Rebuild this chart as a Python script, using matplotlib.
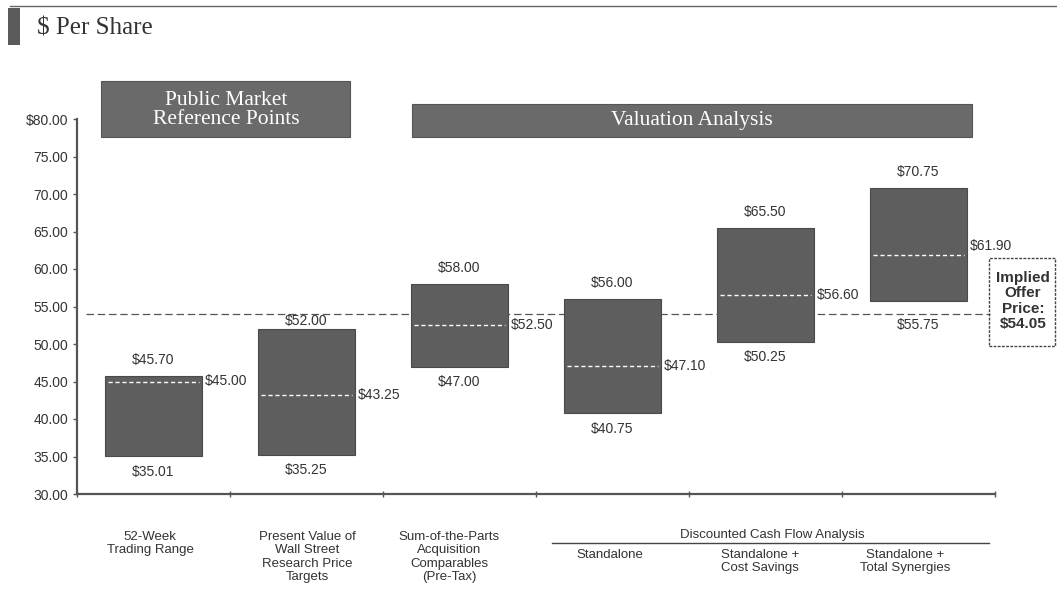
import matplotlib.pyplot as plt
from matplotlib.patches import Rectangle
import numpy as np

# valuation ranges ($ per share)
categories = ['52-Week\nTrading Range',
              'Present Value of\nWall Street\nResearch Price\nTargets',
              'Sum-of-the-Parts\nAcquisition\nComparables\n(Pre-Tax)',
              'Standalone',
              'Standalone +\nCost Savings',
              'Standalone +\nTotal Synergies']
low = [35.01, 35.25, 47.00, 40.75, 50.25, 55.75]
high = [45.70, 52.00, 58.00, 56.00, 65.50, 70.75]
mid = [45.00, 43.25, 52.50, 47.10, 56.60, 61.90]
offer_price = 54.05
yticks = [30, 35, 40, 45, 50, 55, 60, 65, 70, 75, 80]

W, H = 1057, 592
plt.rcParams['font.family'] = ['Liberation Sans', 'DejaVu Sans']
fig = plt.figure(figsize=(W / 100, H / 100), dpi=100)

def fx(px):
    return px / W

def fy(py):
    return 1 - py / H

ax = fig.add_axes([fx(77), fy(494), fx(995) - fx(77), fy(119) - fy(494)])

txt_c = '#333333'
bar_c = '#5e5e5e'
x = np.arange(len(categories))
bw = 0.64
ax.bar(x, np.array(high) - np.array(low), bottom=low, width=bw,
       color=bar_c, edgecolor='#4a4a4a', linewidth=0.8, zorder=3)

# label offsets in points (some nudged clear of the offer price line / callout)
hi_off = [11.5, 6, 11.5, 11.5, 11.5, 11.5]
lo_off = [11, 11, 11, 11, 11, 17.5]
mid_off = [0, 0, 0, 0, 0, 6]
for i in range(len(x)):
    ax.plot([x[i] - bw / 2 + 0.02, x[i] + bw / 2 - 0.02], [mid[i], mid[i]],
            color='white', linestyle=(0, (3, 2)), linewidth=1.0, zorder=4)
    ax.annotate(f'${high[i]:.2f}', (x[i], high[i]), xytext=(0, hi_off[i]),
                textcoords='offset points', ha='center', va='center',
                fontsize=10, color=txt_c)
    ax.annotate(f'${low[i]:.2f}', (x[i], low[i]), xytext=(0, -lo_off[i]),
                textcoords='offset points', ha='center', va='center',
                fontsize=10, color=txt_c)
    ax.annotate(f'${mid[i]:.2f}', (x[i] + bw / 2, mid[i]), xytext=(2, mid_off[i]),
                textcoords='offset points', ha='left', va='center',
                fontsize=10, color=txt_c)

# implied offer price line
ax.axhline(offer_price, xmin=0.01, xmax=0.995, color='#555555',
           linestyle=(0, (6, 3)), linewidth=0.9, zorder=2)

ax.set_xlim(-0.5, 5.5)
ax.set_ylim(30, 80)
ax.set_yticks(yticks)
ax.set_yticklabels(['$80.00' if v == 80 else f'{v:.2f}' for v in yticks])
ax.set_xticks(np.arange(-0.5, 6.0, 1.0))
ax.set_xticklabels([])
ax.tick_params(axis='both', colors='#555555', labelcolor=txt_c,
               labelsize=10, length=3, width=1)
ax.tick_params(axis='x', direction='inout', length=5)
for s in ['top', 'right']:
    ax.spines[s].set_visible(False)
for s in ['left', 'bottom']:
    ax.spines[s].set_color('#555555')
    ax.spines[s].set_linewidth(1.6)

# category labels under the axis
label_x = [150, 307, 449, 610, 760, 905]
for i, lab in enumerate(categories):
    top = 531 if i < 3 else 549
    fig.text(fx(label_x[i]), fy(top), lab, ha='center', va='top',
             fontsize=9.5, color=txt_c, linespacing=1.15)
fig.text(fx(772), fy(535), 'Discounted Cash Flow Analysis', ha='center',
         va='center', fontsize=9.5, color=txt_c)
fig.add_artist(plt.Line2D([fx(552), fx(989)], [fy(543), fy(543)],
                          color='#444444', linewidth=1.0))

# header boxes
hdr_c = '#6a6a6a'
fig.add_artist(Rectangle((fx(101), fy(137)), fx(350) - fx(101), fy(81) - fy(137),
                         transform=fig.transFigure, facecolor=hdr_c,
                         edgecolor='#555555', linewidth=0.8))
fig.text(fx(226), fy(110), 'Public Market\nReference Points', ha='center',
         va='center', fontsize=15.5, color='white', family='Liberation Serif',
         linespacing=0.95)
fig.add_artist(Rectangle((fx(412), fy(137)), fx(972) - fx(412), fy(104) - fy(137),
                         transform=fig.transFigure, facecolor=hdr_c,
                         edgecolor='#555555', linewidth=0.8))
fig.text(fx(692), fy(121), 'Valuation Analysis', ha='center', va='center',
         fontsize=15.5, color='white', family='Liberation Serif')

# implied offer price callout
fig.text(fx(1023), fy(301), 'Implied\nOffer\nPrice:\n$54.05', ha='center',
         va='center', fontsize=11, fontweight='bold', color=txt_c,
         linespacing=1.1)
fig.add_artist(Rectangle((fx(989), fy(346)), fx(1055) - fx(989), fy(258) - fy(346),
                         transform=fig.transFigure, facecolor='none',
                         edgecolor='#444444', linewidth=1.0, linestyle=(0, (2, 1))))

# page title
fig.add_artist(Rectangle((fx(8), fy(45)), fx(20) - fx(8), fy(8) - fy(45),
                         transform=fig.transFigure, facecolor='#5a5a5a',
                         edgecolor='none'))
fig.add_artist(plt.Line2D([fx(10), fx(1057)], [fy(6), fy(6)],
                          color='#666666', linewidth=1.0))
fig.text(fx(37), fy(29), '$ Per Share', ha='left', va='center', fontsize=18,
         color=txt_c, family='Liberation Serif')

fig.savefig('out.png', dpi=100)
